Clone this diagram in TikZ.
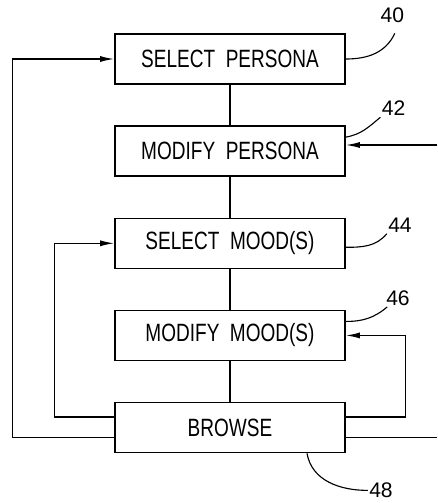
\documentclass[tikz,border=0pt]{standalone}
\usepackage{fontspec}
\setmainfont{Liberation Sans}
\newfontfamily\boxfont[FakeStretch=0.76]{Liberation Sans}
\usetikzlibrary{positioning,arrows.meta,calc}
\tikzset{
  node-box/.style={draw,line width=1.1pt,minimum width=57.5mm,minimum height=12.5mm,
    inner sep=0pt,align=center,font=\boxfont\fontsize{17.8}{20}\selectfont},
  node-ref/.style={inner sep=0.3mm,font=\fontsize{15}{17}\selectfont},
  arrow/.style={-{Latex[length=3.5mm,width=1.5mm]},line width=1pt},
  link/.style={line width=1pt},
  leader/.style={line width=0.8pt},
}
\begin{document}
\begin{tikzpicture}[node distance=10.15mm]
  \useasboundingbox (0,0) rectangle (109.25mm,-125.75mm);
  \node[node-box] at (57.5mm,-14.75mm) (selpersona) {SELECT\ \ PERSONA};
  \node[node-box,below=of selpersona] (modpersona) {MODIFY\ \ PERSONA};
  \node[node-box,below=of modpersona] (selmood) {SELECT\ \ MOOD(S)};
  \node[node-box,below=of selmood] (modmood) {MODIFY\ \ MOOD(S)};
  \node[node-box,below=of modmood] (browse) {BROWSE};
  \draw[link] (selpersona) -- (modpersona);
  \draw[link] (modpersona) -- (selmood);
  \draw[link] (selmood) -- (modmood);
  \draw[link] (modmood) -- (browse);
  % loops back from browse
  \draw[arrow] ([yshift=-2.5mm]browse.west) -- ++(-25.5mm,0) |- (selpersona.west);
  \draw[arrow] ([yshift=2.6mm]browse.west) -- ++(-15mm,0) |- (selmood.west);
  \draw[arrow] ([yshift=2.6mm]browse.east) -- ++(15mm,0) |- (modmood.east);
  \coordinate (inpersona) at (109.25mm,-36.25mm);
  \draw[arrow] (inpersona) -- (modpersona.east |- inpersona);
  \coordinate (outbrowse) at ($(browse.east -| inpersona)+(0,-2.5mm)$);
  \draw[link] ([yshift=-2.5mm]browse.east) -- (outbrowse);
  % reference numerals
  \node[node-ref] at (98.1mm,-3.9mm) (ref40) {40};
  \node[node-ref] at (98.4mm,-27.1mm) (ref42) {42};
  \node[node-ref] at (100mm,-56.25mm) (ref44) {44};
  \node[node-ref] at (99.5mm,-74.5mm) (ref46) {46};
  \node[node-ref] at (95.25mm,-122.6mm) (ref48) {48};
  \draw[leader] (selpersona.east) to[out=0,in=-115] ([shift={(0.6mm,-2.2mm)}]ref40.south);
  \draw[leader] ([yshift=3.5mm]modpersona.east) to[out=10,in=-140] (ref42.south west);
  \draw[leader] ([yshift=-1mm]selmood.east) to[out=0,in=-130] (ref44.south west);
  \draw[leader] ([yshift=3.5mm]modmood.east) to[out=0,in=-140] ([xshift=0.6mm]ref46.south west);
  \draw[leader] ([xshift=19.25mm]browse.south) to[out=-80,in=180] (ref48.west);
\end{tikzpicture}
\end{document}
